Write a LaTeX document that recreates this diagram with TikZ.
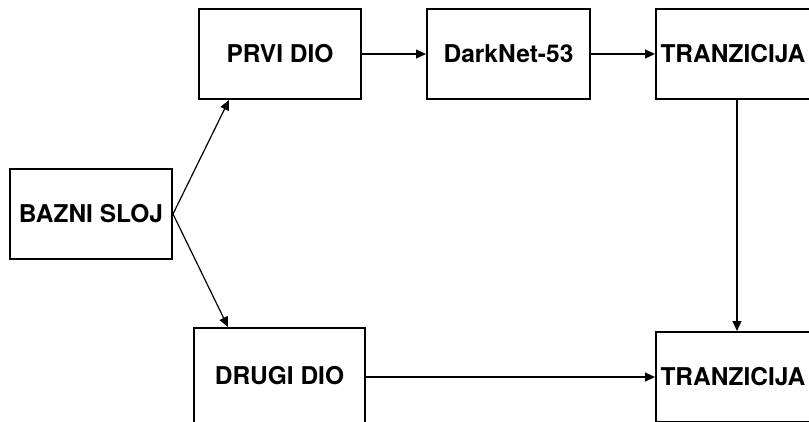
\documentclass[tikz,border=0pt]{standalone}
\usepackage{fontspec}
\setmainfont{TeX Gyre Heros}
\usetikzlibrary{arrows.meta}
\begin{document}
\begin{tikzpicture}[x=1pt,y=-1pt,
  blk/.style={draw=black, line width=2pt, minimum height=90pt, inner sep=0pt,
    font=\fontsize{24.5}{29}\selectfont\bfseries, fill=white},
  conn/.style={line width=1.2pt, -{Triangle[length=10pt,width=9pt]}}]
\useasboundingbox (0,0) rectangle (809,421);
\node[blk, minimum width=162pt] (baz) at (91,214) {BAZNI SLOJ};
\node[blk, minimum width=162pt] (prvi) at (280,54) {PRVI DIO};
\node[blk, minimum width=163pt] (dark) at (508.5,54) {DarkNet-53};
\node[blk, minimum width=162pt, text width=153pt, align=left] (tr1) at (737,54) {TRANZICIJA};
\node[blk, minimum width=171pt, minimum height=96pt] (drugi) at (279.5,376) {DRUGI DIO};
\node[blk, minimum width=162pt, text width=153pt, align=left] (tr2) at (737,377) {TRANZICIJA};
\draw[conn] (baz.east) -- (prvi.south -| 229,0);
\draw[conn] (baz.east) -- (drugi.north -| 228,0);
\draw[conn] (prvi) -- (dark);
\draw[conn] (dark) -- (tr1);
\draw[conn] (tr1) -- (tr2);
\draw[conn] (drugi.east |- tr2) -- (tr2.west);
\end{tikzpicture}
\end{document}
